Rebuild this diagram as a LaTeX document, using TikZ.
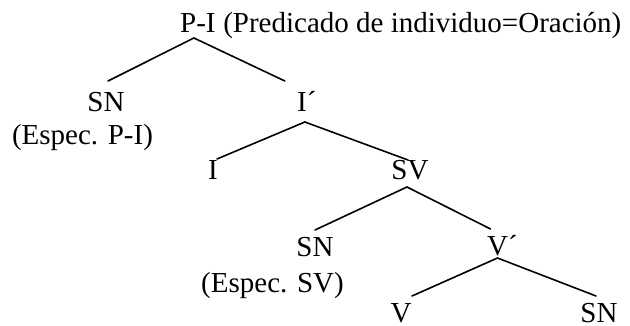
\documentclass[tikz,border=0pt]{standalone}
\usepackage{fontspec}
\setmainfont{Liberation Serif}
\usepackage{tikz}
\usetikzlibrary{positioning}

\begin{document}
\begin{tikzpicture}[
  x=1pt, y=-1pt,
  font=\fontsize{29}{34}\selectfont,
  tx/.style={inner sep=0pt, anchor=base},
  branch/.style={line width=1.6pt, line cap=round}
]
\useasboundingbox (0,0) rectangle (630,326);
% nodes of the tree
\node[tx, anchor=base west] (pi) at (180,33) {P-I};
\node[tx, base right=7.25pt of pi] (pidesc) {(Predicado de individuo=Oración)};
\node[tx] (sn1) at (106,112) {SN};
\node[tx] (esp1) at (82.5,145) {(Espec. P-I)};
\node[tx, anchor=base west] (ibar) at (297,112) {I´};
\node[tx] (i2) at (213,180) {I};
\node[tx] (sv) at (410,180) {SV};
\node[tx] (sn3) at (315,257) {SN};
\node[tx] (esp3) at (272.5,292) {(Espec. SV)};
\node[tx, anchor=base west] (vbar) at (487,256) {V´};
\node[tx] (v) at (401,322) {V};
\node[tx] (sn4) at (599,322) {SN};
% branches
\draw[branch] ([xshift=-4pt,yshift=-5pt]pi.base) -- ([xshift=2pt,yshift=31pt]sn1.base);
\draw[branch] ([xshift=-4pt,yshift=-5pt]pi.base) -- ([xshift=-22pt,yshift=31pt]ibar.base);
\draw[branch] ([xshift=-2pt,yshift=-10pt]ibar.base) -- ([xshift=4pt,yshift=21pt]i2.base);
\draw[branch] ([xshift=-2pt,yshift=-10pt]ibar.base) -- ([xshift=-2pt,yshift=20pt]sv.base);
\draw[branch] ([xshift=-3pt,yshift=-7pt]sv.base) -- ([yshift=27pt]sn3.base);
\draw[branch] ([xshift=-3pt,yshift=-7pt]sv.base) -- ([xshift=-12pt,yshift=27pt]vbar.base);
\draw[branch] ([xshift=-5pt,yshift=-2pt]vbar.base) -- ([xshift=11pt,yshift=26pt]v.base);
\draw[branch] ([xshift=-5pt,yshift=-2pt]vbar.base) -- ([xshift=-3pt,yshift=26pt]sn4.base);
\end{tikzpicture}
\end{document}
